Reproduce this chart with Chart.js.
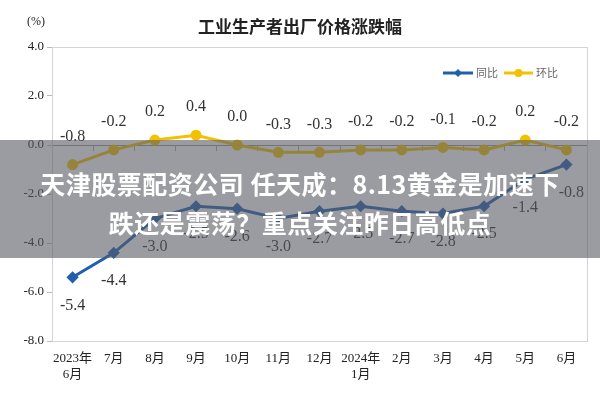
<!DOCTYPE html>
<html>
<head>
<meta charset="utf-8">
<script src="https://cdn.jsdelivr.net/npm/chart.js@4/dist/chart.umd.min.js"></script>
<style>
  body { margin: 0; background: #fff; }
  #wrap { position: relative; width: 600px; height: 400px; }
  #banner {
    position: absolute; left: 0; top: 140px; width: 600px; height: 118px;
    background: rgba(88, 90, 98, 0.6); color: #fff; text-align: center;
    font: bold 25px "Noto Sans CJK SC", sans-serif; line-height: 39px;
    box-sizing: border-box; padding-top: 24px; letter-spacing: 0.5px;
  }
</style>
</head>
<body>
<div id="wrap">
  <canvas id="c" width="600" height="400"></canvas>
  <div id="banner">天津股票配资公司 任天成：8.13黄金是加速下<br>跌还是震荡？重点关注昨日高低点</div>
</div>
<script>
// 月份
const months = [['2023年', '6月'], '7月', '8月', '9月', '10月', '11月', '12月', ['2024年', '1月'], '2月', '3月', '4月', '5月', '6月'];
// 同比
const yoy = [-5.4, -4.4, -3.0, -2.5, -2.6, -3.0, -2.7, -2.5, -2.7, -2.8, -2.5, -1.4, -0.8];
// 环比
const mom = [-0.8, -0.2, 0.2, 0.4, 0.0, -0.3, -0.3, -0.2, -0.2, -0.1, -0.2, 0.2, -0.2];
const yMin = -8, yMax = 4, yStep = 2;

const blue = '#1f5fad';
const yellow = '#f2c200';
const serif = '"Liberation Serif", "Noto Sans CJK SC", serif';

// 标题、图例、数据标签
const decor = {
  id: 'decor',
  afterDraw(chart) {
    const ctx = chart.ctx;
    const a = chart.chartArea;
    ctx.save();
    // 绘图区边框
    ctx.strokeStyle = '#d4d4d4';
    ctx.lineWidth = 1;
    ctx.strokeRect(a.left + 0.5, a.top + 0.5, a.right - a.left, a.bottom - a.top);

    ctx.fillStyle = '#222';
    ctx.textAlign = 'center';
    ctx.textBaseline = 'middle';
    ctx.font = 'bold 17px "Noto Sans CJK SC", sans-serif';
    ctx.fillText('工业生产者出厂价格涨跌幅', 300, 27);
    ctx.font = '12px ' + serif;
    ctx.fillText('(%)', 36, 22);

    // 图例
    const ly = 73;
    ctx.lineWidth = 3;
    ctx.strokeStyle = blue;
    ctx.beginPath(); ctx.moveTo(443, ly); ctx.lineTo(473, ly); ctx.stroke();
    ctx.fillStyle = blue;
    ctx.beginPath(); ctx.moveTo(458, ly - 4); ctx.lineTo(462, ly); ctx.lineTo(458, ly + 4); ctx.lineTo(454, ly); ctx.fill();
    ctx.strokeStyle = yellow;
    ctx.beginPath(); ctx.moveTo(504, ly); ctx.lineTo(533, ly); ctx.stroke();
    ctx.fillStyle = yellow;
    ctx.beginPath(); ctx.arc(518.5, ly, 4, 0, Math.PI * 2); ctx.fill();
    ctx.fillStyle = '#666';
    ctx.font = '11px "Noto Sans CJK SC", sans-serif';
    ctx.textAlign = 'left';
    ctx.fillText('同比', 476, ly);
    ctx.fillText('环比', 536, ly);

    // 数据标签
    ctx.textAlign = 'center';
    ctx.fillStyle = '#333';
    ctx.font = '16px ' + serif;
    chart.data.datasets.forEach((ds, i) => {
      const meta = chart.getDatasetMeta(i);
      meta.data.forEach((pt, j) => {
        const dy = ds.labelAbove ? -28 : 28;
        ctx.fillText(ds.data[j].toFixed(1), pt.x + (j === ds.data.length - 1 && !ds.labelAbove ? 5 : 0), pt.y + dy);
      });
    });
    ctx.restore();
  }
};

new Chart(document.getElementById('c'), {
  type: 'line',
  data: {
    labels: months,
    datasets: [
      {
        label: '同比', data: yoy, borderColor: blue, backgroundColor: blue,
        borderWidth: 3, pointStyle: 'rectRot', pointRadius: 4, labelAbove: false
      },
      {
        label: '环比', data: mom, borderColor: yellow, backgroundColor: yellow,
        borderWidth: 3, pointStyle: 'circle', pointRadius: 4, labelAbove: true
      }
    ]
  },
  options: {
    responsive: false,
    animation: false,
    layout: { padding: { top: 47, right: 13, left: 0, bottom: 0 } },
    plugins: { legend: { display: false }, tooltip: { enabled: false } },
    scales: {
      x: {
        offset: true,
        grid: { display: false, drawTicks: false },
        border: { display: false },
        ticks: { color: '#222', font: { family: serif, size: 13 }, padding: 10, maxRotation: 0, autoSkip: false },
        afterFit: s => { s.height = 59; }
      },
      x2: {
        type: 'category',
        labels: months,
        position: { y: 0 },
        offset: true,
        ticks: { display: false },
        grid: { drawOnChartArea: false, offset: true, tickLength: 5, color: '#aaa' },
        border: { color: '#999' }
      },
      y: {
        min: yMin, max: yMax,
        grid: { drawOnChartArea: false, tickLength: 5, color: '#bbb' },
        border: { color: '#d4d4d4' },
        ticks: { stepSize: yStep, color: '#222', font: { family: serif, size: 13 }, padding: 3, callback: v => v.toFixed(1) },
        afterFit: s => { s.width = 52; }
      }
    }
  },
  plugins: [decor]
});
</script>
</body>
</html>
